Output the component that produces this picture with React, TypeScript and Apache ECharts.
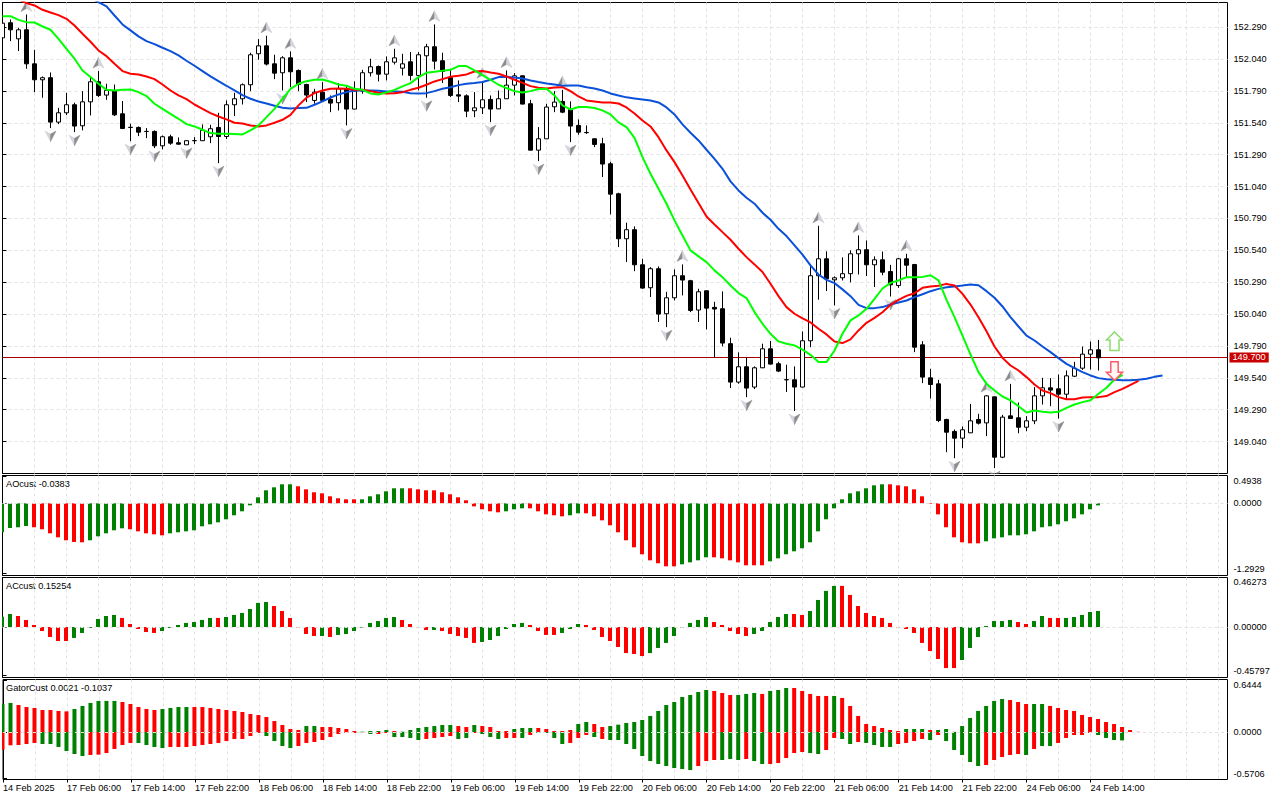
import React, { useEffect, useRef } from "react";
import * as echarts from "echarts";

// ---------- main pane: H1 candles, index 0 = first visible bar
const opens = [
152.207,152.325,152.199,152.270,152.003,151.878,151.894,151.546,151.619,151.682,
151.517,151.705,151.862,151.758,151.789,151.611,151.505,151.504,151.473,151.473,
151.360,151.431,151.384,151.368,151.400,151.400,151.431,151.504,151.433,151.682,
151.729,151.839,152.082,152.144,152.003,151.933,152.050,151.951,151.841,151.716,
151.781,151.724,151.698,151.807,151.648,151.789,151.933,151.982,151.922,152.016,
151.969,152.019,151.912,152.066,152.137,152.027,151.894,151.760,151.752,151.635,
151.658,151.724,151.650,151.729,151.836,151.909,151.690,151.326,151.415,151.666,
151.708,151.643,151.520,151.465,151.415,151.376,151.219,150.984,150.631,150.702,
150.427,150.247,150.396,150.043,150.168,150.341,150.302,150.072,150.223,150.093,
150.082,149.808,149.507,149.627,149.468,149.619,149.768,149.651,149.526,149.525,
149.468,149.831,150.341,150.474,150.309,150.325,150.357,150.513,150.545,150.427,
150.466,150.374,150.264,150.474,150.429,149.799,149.540,149.493,149.214,149.120,
149.067,149.109,149.214,149.187,149.391,148.918,149.242,149.227,149.153,149.203,
149.399,149.462,149.454,149.412,149.553,149.616,149.726,149.760];
const closes = [
152.322,152.270,152.270,152.003,151.878,151.894,151.546,151.619,151.682,151.515,
151.705,151.862,151.755,151.794,151.603,151.496,151.504,151.467,151.472,151.360,
151.431,151.381,151.373,151.400,151.401,151.481,151.494,151.433,151.682,151.729,
151.839,152.074,152.144,152.001,151.930,152.050,151.941,151.841,151.758,151.781,
151.716,151.695,151.807,151.648,151.789,151.933,151.980,151.922,152.019,152.050,
152.003,151.912,152.074,152.137,152.024,151.943,151.755,151.750,151.632,151.658,
151.721,151.648,151.729,151.836,151.909,151.687,151.326,151.415,151.664,151.703,
151.624,151.515,151.467,151.463,151.371,151.217,150.981,150.631,150.702,150.427,
150.244,150.396,150.040,150.168,150.341,150.307,150.069,150.215,150.087,150.080,
149.813,149.507,149.627,149.460,149.619,149.768,149.648,149.593,149.525,149.468,
149.831,150.341,150.474,150.317,150.325,150.357,150.513,150.545,150.427,150.466,
150.369,150.270,150.474,150.424,149.781,149.546,149.488,149.206,149.114,149.067,
149.133,149.203,149.185,149.399,148.918,149.232,149.221,149.153,149.203,149.399,
149.462,149.444,149.412,149.556,149.616,149.726,149.760,149.697];
const highs = [
152.330,152.351,152.286,152.390,152.113,151.904,151.935,151.658,151.776,151.698,
151.789,151.904,151.946,151.847,151.841,151.711,151.533,151.512,151.499,151.481,
151.441,151.447,151.426,151.402,151.428,151.528,151.525,151.619,151.716,151.776,
151.849,152.090,152.197,152.223,152.074,152.063,152.100,151.959,151.847,151.807,
151.860,151.755,151.852,151.826,151.865,151.956,152.043,151.990,152.061,152.121,
152.082,152.095,152.095,152.160,152.312,152.090,151.964,151.873,151.763,151.781,
151.867,151.755,151.794,151.951,151.930,151.912,151.721,151.507,151.690,151.789,
151.799,151.708,151.567,151.520,151.418,151.423,151.235,150.992,150.757,150.728,
150.474,150.409,150.414,150.215,150.391,150.430,150.309,150.239,150.225,150.137,
150.218,149.855,149.740,149.698,149.630,149.808,149.829,149.666,149.643,149.630,
149.904,150.432,150.733,150.532,150.336,150.485,150.540,150.657,150.618,150.493,
150.531,150.426,150.481,150.513,150.434,149.828,149.611,149.525,149.219,149.135,
149.159,149.336,149.258,149.405,149.394,149.250,149.493,149.347,149.240,149.467,
149.540,149.538,149.566,149.598,149.666,149.786,149.825,149.838];
const lows = [
152.200,152.181,152.103,151.964,151.781,151.737,151.499,151.530,151.601,151.467,
151.481,151.598,151.742,151.721,151.593,151.491,151.397,151.436,151.420,151.342,
151.332,151.368,151.368,151.367,151.373,151.398,151.381,151.224,151.413,151.593,
151.684,151.789,152.035,151.990,151.883,151.794,151.820,151.789,151.703,151.690,
151.703,151.624,151.637,151.520,151.646,151.768,151.904,151.865,151.873,151.998,
151.912,151.873,151.794,151.737,151.959,151.852,151.742,151.703,151.585,151.585,
151.609,151.546,151.648,151.727,151.755,151.686,151.324,151.240,151.413,151.624,
151.616,151.389,151.447,151.454,151.350,151.115,150.822,150.566,150.448,150.377,
150.239,150.174,149.978,149.938,150.147,150.187,150.056,149.978,149.920,149.698,
149.787,149.460,149.494,149.389,149.452,149.617,149.645,149.585,149.429,149.280,
149.466,149.781,150.153,150.221,150.108,150.304,150.289,150.351,150.338,150.252,
150.345,150.178,150.246,150.330,149.742,149.499,149.378,149.193,148.957,148.910,
148.989,149.107,149.174,149.083,148.832,148.910,149.219,149.106,149.122,149.177,
149.331,149.318,149.221,149.370,149.546,149.603,149.606,149.598];

// Alligator lines (first index given by *Start)
const blueStart = 11;
const blueLine = [152.52,
152.487,152.453,152.382,152.312,152.265,152.218,152.181,152.158,152.129,152.103,
152.069,152.027,151.988,151.946,151.904,151.867,151.831,151.794,151.758,151.729,
151.708,151.692,151.674,151.658,151.653,151.656,151.658,151.682,151.708,151.739,
151.763,151.781,151.794,151.794,151.794,151.792,151.786,151.786,151.784,151.773,
151.771,151.773,151.789,151.807,151.820,151.836,151.847,151.852,151.860,151.878,
151.899,151.901,151.896,151.888,151.873,151.860,151.849,151.841,151.831,151.833,
151.833,151.820,151.810,151.794,151.771,151.755,151.740,151.732,151.724,151.716,
151.700,151.661,151.606,151.528,151.462,151.402,151.329,151.258,151.180,151.081,
151.010,150.953,150.906,150.835,150.780,150.709,150.652,150.579,150.506,150.422,
150.351,150.309,150.283,150.234,150.181,150.113,150.087,150.087,150.095,150.115,
150.131,150.147,150.173,150.196,150.220,150.238,150.251,150.257,150.264,150.272,
150.267,150.220,150.168,150.100,150.016,149.943,149.872,149.833,149.786,149.742,
149.695,149.650,149.616,149.585,149.559,149.538,149.530,149.525,149.522,149.522,
149.525,149.533,149.548,149.559];
const redStart = 2;
const redLine = [152.508,
152.479,152.461,152.427,152.406,152.385,152.356,152.304,152.239,152.176,152.108,
152.063,152.003,151.946,151.925,151.920,151.904,151.883,151.841,151.794,151.755,
151.726,151.684,151.650,151.616,151.590,151.567,151.541,151.535,151.520,151.512,
151.520,151.541,151.564,151.603,151.677,151.737,151.773,151.794,151.807,151.810,
151.807,151.799,151.799,151.789,151.776,151.771,151.773,151.781,151.799,151.815,
151.839,151.865,151.883,151.901,151.909,151.920,151.943,151.946,151.935,151.925,
151.904,151.878,151.854,151.828,151.815,151.810,151.818,151.820,151.789,151.747,
151.716,151.708,151.700,151.700,151.692,151.661,151.614,151.559,151.512,151.428,
151.324,151.232,151.128,151.018,150.911,150.806,150.743,150.683,150.623,150.553,
150.487,150.430,150.370,150.278,150.181,150.095,150.043,150.006,149.975,149.925,
149.881,149.826,149.813,149.842,149.912,149.972,150.011,150.055,150.113,150.152,
150.183,150.204,150.246,150.257,150.262,150.277,150.264,150.199,150.115,150.016,
149.906,149.786,149.697,149.637,149.598,149.546,149.488,149.441,149.420,149.389,
149.373,149.373,149.386,149.389,149.389,149.397,149.428,149.454,149.485,149.517];
const greenStart = 0;
const greenLine = [
152.377,152.377,152.348,152.330,152.327,152.296,152.270,152.199,152.121,152.043,
151.951,151.899,151.847,151.799,151.794,151.799,151.802,151.781,151.750,151.690,
151.650,151.611,151.572,151.530,151.512,151.486,151.460,151.454,151.454,151.452,
151.449,151.481,151.520,151.585,151.650,151.729,151.807,151.847,151.867,151.878,
151.880,151.862,151.841,151.831,151.807,151.799,151.771,151.763,151.779,151.799,
151.826,151.852,151.899,151.933,151.941,151.948,151.956,151.985,151.985,151.951,
151.914,151.878,151.839,151.813,151.789,151.779,151.789,151.805,151.807,151.755,
151.677,151.645,151.664,151.664,151.657,151.638,151.606,151.544,151.507,151.423,
151.271,151.141,151.023,150.906,150.775,150.657,150.540,150.493,150.448,150.383,
150.330,150.265,150.205,150.166,150.056,149.964,149.886,149.826,149.808,149.795,
149.761,149.721,149.664,149.664,149.755,149.886,149.991,150.030,150.082,150.160,
150.241,150.285,150.304,150.330,150.330,150.332,150.345,150.304,150.152,150.016,
149.872,149.723,149.585,149.493,149.441,149.394,149.363,149.318,149.268,149.284,
149.274,149.268,149.274,149.305,149.331,149.350,149.365,149.415,149.462,149.527,
149.564];

// Fractal bars
const fractalUp = [3,12,33,36,40,49,54,60,63,70,85,102,107,113,123,126];
const fractalDown = [6,9,16,19,23,27,35,43,53,61,67,71,83,93,99,104,111,119,124,132];

// Signal arrows on the last bars
const signalBar = 139;
const signalUpPrice = 149.826;
const signalDownPrice = 149.595;

const currentPrice = 149.7;

// ---------- AO
const aoValues = [
-.537,-.457,-.444,-.420,-.444,-.481,-.556,-.630,-.685,-.716,-.722,-.685,-.611,-.556,-.500,-.463,
-.481,-.519,-.556,-.574,-.593,-.556,-.537,-.519,-.500,-.426,-.389,-.352,-.296,-.222,-.148,-.037,
.111,.241,.296,.352,.352,.315,.259,.204,.185,.130,.093,.074,.074,.074,.130,.167,.222,.278,
.278,.278,.259,.241,.241,.204,.167,.111,.056,-.056,-.111,-.148,-.167,-.148,-.111,-.093,-.093,
-.148,-.204,-.222,-.241,-.222,-.185,-.185,-.241,-.315,-.407,-.537,-.685,-.815,-.944,-1.056,
-1.111,-1.167,-1.167,-1.130,-1.093,-1.056,-1.000,-1.000,-1.019,-1.056,-1.093,-1.148,-1.148,
-1.148,-1.074,-1.019,-.944,-.889,-.833,-.722,-.519,-.296,-.093,.074,.185,.222,.278,.333,.352,
.352,.333,.315,.259,.130,-.012,-.204,-.444,-.630,-.722,-.741,-.741,-.704,-.648,-.630,-.593,
-.593,-.574,-.519,-.444,-.426,-.389,-.333,-.278,-.204,-.111,-.038];
// lengths of alternating rising / falling runs, starting with rising
const aoRuns = [4,7,5,5,16,8,6,12,3,5,2,12,4,7,15,12,15];

// ---------- AC
const acValues = [
.097,.122,.103,.066,.019,-.038,-.094,-.132,-.132,-.103,-.056,-.009,.075,.103,.113,.085,.028,
-.019,-.047,-.056,-.038,-.009,.019,.038,.047,.066,.085,.085,.094,.113,.132,.169,.226,.235,
.197,.150,.085,-.006,-.066,-.085,-.085,-.094,-.075,-.066,-.038,-.006,.038,.056,.085,.094,
.066,.028,-.003,-.028,-.028,-.038,-.066,-.085,-.103,-.150,-.141,-.122,-.085,-.019,.028,.038,
.019,-.038,-.075,-.075,-.056,-.019,.028,.019,-.028,-.094,-.132,-.188,-.245,-.254,-.273,-.245,
-.197,-.150,-.085,-.006,.038,.066,.094,.047,.019,-.038,-.066,-.085,-.066,-.038,.047,.094,.122,
.122,.113,.150,.254,.339,.386,.386,.301,.197,.132,.103,.085,.038,-.006,-.019,-.056,-.150,-.226,
-.301,-.386,-.386,-.310,-.197,-.094,.009,.056,.056,.066,.047,.028,.056,.103,.085,.085,.085,
.094,.113,.141,.150];
const acRuns = [2,7,6,5,7,1,6,6,1,1,8,4,1,5,6,4,3,8,8,5,5,2,4,15,7,2,2,2,5];

// ---------- Gator
const gatorUpper = [
.347,.360,.335,.310,.298,.273,.273,.261,.256,.285,.323,.360,.385,.385,.385,.372,.347,.310,.285,
.273,.285,.298,.310,.310,.310,.310,.298,.285,.273,.261,.248,.223,.211,.186,.136,.087,.037,.025,
.074,.074,.062,.062,.050,.037,.012,.004,.012,.012,.025,.012,.004,.025,.050,.062,.074,.087,.087,
.074,.062,.087,.074,.062,.012,.012,.037,.050,.050,.050,.037,.012,.012,.025,.099,.124,.099,.062,
.074,.091,.112,.124,.149,.199,.261,.335,.372,.434,.459,.496,.521,.509,.484,.459,.459,.472,.484,
.472,.509,.521,.546,.546,.509,.472,.447,.447,.447,.422,.323,.199,.099,.074,.050,.025,.012,.037,
.037,.037,.025,.025,.037,.002,.074,.174,.261,.323,.385,.409,.397,.372,.347,.347,.347,.323,.298,
.273,.261,.211,.186,.161,.124,.099,.062,.025,.002];
const gatorUpperRuns = [2,7,6,5,4,14,2,5,4,1,7,2,1,4,3,5,2,2,13,3,3,1,3,5,1,8,3,1,9,3,2,12];
const gatorLower = [
-.219,-.165,-.161,-.149,-.136,-.149,-.149,-.186,-.236,-.273,-.298,-.285,-.281,-.261,-.211,-.161,
-.136,-.136,-.161,-.186,-.199,-.186,-.186,-.186,-.174,-.161,-.149,-.136,-.112,-.087,-.087,-.050,
-.012,-.050,-.112,-.174,-.199,-.174,-.136,-.124,-.099,-.062,-.025,-.012,-.012,-.004,-.025,-.025,
-.012,-.062,-.062,-.074,-.099,-.087,-.074,-.062,-.050,-.087,-.074,-.012,-.025,-.062,-.087,-.074,
-.074,-.074,-.037,-.012,-.012,-.074,-.149,-.136,-.074,-.037,-.062,-.087,-.099,-.099,-.149,-.211,
-.298,-.360,-.397,-.422,-.447,-.459,-.472,-.422,-.360,-.347,-.347,-.335,-.347,-.335,-.360,-.397,
-.397,-.385,-.323,-.261,-.248,-.261,-.273,-.223,-.074,-.087,-.149,-.124,-.136,-.161,-.186,-.186,
-.149,-.136,-.112,-.087,-.099,-.037,-.112,-.223,-.285,-.372,-.422,-.409,-.347,-.310,-.285,-.273,
-.285,-.211,-.174,-.174,-.136,-.074,-.037,-.037,-.012,-.037,-.074,-.099,-.104];
// lengths of alternating runs, starting with falling
const gatorLowerRuns = [5,6,6,4,12,4,8,2,2,4,4,2,1,3,2,1,1,4,3,1,1,11,3,3,1,2,5,2,2,2,1,4,4,1,1,5,5,1,1,2,5,4];

// ---------- texts
const aoTitle = "AOcust -0.0383";
const acTitle = "ACcust 0.15254";
const gatorTitle = "GatorCust 0.0021 -0.1037";
const aoTicks = [-1.2929, 0, 0.4938];
const acTicks = [-0.45797, 0, 0.46273];
const gatorTicks = [-0.5706, 0, 0.6444];
const timeLabels = ["14 Feb 2025","17 Feb 06:00","17 Feb 14:00","17 Feb 22:00","18 Feb 06:00","18 Feb 14:00","18 Feb 22:00","19 Feb 06:00","19 Feb 14:00","19 Feb 22:00","20 Feb 06:00","20 Feb 14:00","20 Feb 22:00","21 Feb 06:00","21 Feb 14:00","21 Feb 22:00","24 Feb 06:00","24 Feb 14:00"];
const barsPerLabel = 8;

const FONT = "Liberation Sans";
const FONT_SIZE = 9.2;
const GRID_COLOR = "#e2e2e2";
const XMAX = 153.125;
const GREEN = "#008000";
const RED = "#ff0000";

function expandRuns(runs: number[], firstRising: boolean): boolean[] {
  const out: boolean[] = [];
  let flag = firstRising;
  runs.forEach((n) => {
    for (let k = 0; k < n; k++) out.push(flag);
    flag = !flag;
  });
  return out;
}

const barData = (values: number[], rising: boolean[]) =>
  values.map((v, i) => ({ value: [i, v], itemStyle: { color: rising[i] ? GREEN : RED } }));

const lineData = (values: number[], start: number) => values.map((v, k) => [k + start, v]);

const lineSeries = (name: string, values: number[], start: number, color: string, z: number) => ({
  name,
  type: "line",
  xAxisIndex: 0,
  yAxisIndex: 0,
  data: lineData(values, start),
  showSymbol: false,
  symbol: "none",
  z,
  lineStyle: { color, width: 2 },
  silent: true,
});

const gridAxis = (gridIndex: number) => ({
  type: "value",
  gridIndex,
  min: 0,
  max: XMAX,
  interval: 4,
  axisLine: { show: false },
  axisTick: { show: false },
  axisLabel: { show: false },
  splitLine: { show: true, showMinLine: false, showMaxLine: false, lineStyle: { color: GRID_COLOR, type: [3, 3], width: 1 } },
});

// hidden axis, half a pixel to the left, so that bars fall on whole pixels
const barAxis = (gridIndex: number) => ({
  type: "value",
  gridIndex,
  min: 0.0625,
  max: XMAX + 0.0625,
  show: false,
});

const indicatorY = (gridIndex: number, min: number, max: number, ticks: number[], digits: number) => ({
  type: "value",
  gridIndex,
  position: "right",
  min,
  max,
  axisLine: { show: true, lineStyle: { color: "#000" } },
  axisTick: { show: true, length: 4, lineStyle: { color: "#000" }, customValues: ticks },
  axisLabel: {
    show: true,
    customValues: ticks,
    margin: 6,
    fontSize: FONT_SIZE,
    fontFamily: FONT,
    color: "#000",
    verticalAlignMinLabel: "bottom",
    verticalAlignMaxLabel: "top",
    formatter: (v: number) => v.toFixed(digits),
  },
  splitLine: { show: false },
});

const zeroLine = {
  silent: true,
  symbol: "none",
  label: { show: false },
  lineStyle: { color: "#e0e0e0", type: [3, 3], width: 1 },
  data: [{ yAxis: 0 }],
};

const indicatorBars = (name: string, data: any[], xAxisIndex: number, yAxisIndex: number, withZero: boolean) => ({
  name,
  type: "bar",
  xAxisIndex,
  yAxisIndex,
  data,
  barWidth: 4,
  barGap: "-100%",
  silent: true,
  z: 2,
  markLine: withZero ? zeroLine : undefined,
});

function renderFractal(_: any, api: any) {
  const dir = api.value(2);
  const p = api.coord([api.value(0), api.value(1)]);
  const cx = p[0];
  const cy = p[1] - dir * 8;
  const s = dir;
  const apex = [cx, cy - 5.5 * s];
  const left = [cx - 5.5, cy + 5 * s];
  const right = [cx + 5.5, cy + 5 * s];
  const notch = [cx, cy + 2 * s];
  const dark = "#8c8c8c";
  const light = "#d4d6dc";
  return {
    type: "group",
    children: [
      { type: "polygon", shape: { points: [apex, left, notch] }, style: { fill: s > 0 ? dark : light, stroke: s > 0 ? dark : "#c8ccd8", lineWidth: 0.5 } },
      { type: "polygon", shape: { points: [apex, right, notch] }, style: { fill: s > 0 ? light : dark, stroke: s > 0 ? "#c8ccd8" : dark, lineWidth: 0.5 } },
    ],
  };
}

function renderSignal(_: any, api: any) {
  const dir = api.value(2);
  const p = api.coord([api.value(0), api.value(1)]);
  const [cx, cy] = p;
  const hw = dir > 0 ? 4.5 : 3.7;
  const pts = [
    [0, -9.5], [8, -1.5], [hw, -1.5], [hw, 9], [-hw, 9], [-hw, -1.5], [-8, -1.5],
  ].map(([x, y]) => [cx + x, cy + y * dir]);
  return {
    type: "polygon",
    shape: { points: pts },
    style: dir > 0
      ? { fill: "#ffffff", stroke: "#8fdc70", lineWidth: 1.5 }
      : { fill: "#fff8f4", stroke: "#ff5a6a", lineWidth: 1.5 },
  };
}

export default function App() {
  const ref = useRef<HTMLDivElement>(null);

  useEffect(() => {
    document.body.style.margin = "0";
    const chart = echarts.init(ref.current!, undefined, { renderer: "svg" });

    const frame = { show: true, borderColor: "#000", borderWidth: 1, backgroundColor: "#fff" };
    const labelTicks = timeLabels.map((_, k) => k * barsPerLabel);
    const titleFont = `${FONT_SIZE}px "${FONT}"`;
    const option: any = {
      animation: false,
      backgroundColor: "#fff",
      textStyle: { fontFamily: FONT },
      grid: [
        { left: 2.5, top: 2.5, width: 1225, height: 471, ...frame },
        { left: 2.5, top: 475.5, width: 1225, height: 100, ...frame },
        { left: 2.5, top: 577.5, width: 1225, height: 100, ...frame },
        { left: 2.5, top: 679.5, width: 1225, height: 100, ...frame },
      ],
      xAxis: [
        gridAxis(0),
        gridAxis(1), barAxis(1),
        gridAxis(2), barAxis(2),
        gridAxis(3), barAxis(3),
        {
          type: "value",
          gridIndex: 3,
          position: "bottom",
          min: 0,
          max: XMAX,
          axisLine: { show: false },
          axisTick: { show: true, length: 3, lineStyle: { color: "#000" }, customValues: labelTicks },
          splitLine: { show: false },
          axisLabel: {
            show: true,
            customValues: labelTicks,
            align: "left",
            margin: 4,
            fontSize: FONT_SIZE,
            fontFamily: FONT,
            color: "#000",
            hideOverlap: false,
            formatter: (v: number) => timeLabels[v / barsPerLabel] ?? "",
          },
        },
      ],
      yAxis: [
        {
          type: "value",
          gridIndex: 0,
          position: "right",
          min: 148.79,
          max: 152.484,
          interval: 0.25,
          axisLine: { show: true, lineStyle: { color: "#000" } },
          axisTick: { show: true, length: 4, lineStyle: { color: "#000" } },
          axisLabel: {
            show: true,
            margin: 6,
            fontSize: FONT_SIZE,
            fontFamily: FONT,
            color: "#000",
            showMinLabel: false,
            showMaxLabel: false,
            formatter: (v: number) => v.toFixed(3),
          },
          splitLine: { show: true, showMinLine: false, showMaxLine: false, lineStyle: { color: GRID_COLOR, type: [3, 3], width: 1 } },
        },
        indicatorY(1, -1.337, 0.515, aoTicks, 4),
        indicatorY(2, -0.4746, 0.465, acTicks, 5),
        indicatorY(3, -0.589, 0.651, gatorTicks, 4),
      ],
      graphic: [
        // bars and candles of the first index stop at the left frame
        { type: "rect", z: 100, silent: true, shape: { x: 0, y: 0, width: 2, height: 800 }, style: { fill: "#fff" } },
        { type: "text", left: 6, top: 479, silent: true, style: { text: aoTitle, font: titleFont, fill: "#000" } },
        { type: "text", left: 6, top: 581, silent: true, style: { text: acTitle, font: titleFont, fill: "#000" } },
        { type: "text", left: 6, top: 683, silent: true, style: { text: gatorTitle, font: titleFont, fill: "#000" } },
      ],
      series: [
        {
          name: "price line",
          type: "line",
          xAxisIndex: 0,
          yAxisIndex: 0,
          data: [],
          z: 1,
          silent: true,
          markLine: {
            z: 1,
            silent: true,
            symbol: "none",
            lineStyle: { color: "#a80000", type: "solid", width: 1 },
            label: {
              show: true,
              position: "end",
              distance: 2,
              formatter: (p: any) => Number(p.value).toFixed(3),
              backgroundColor: "#c80000",
              color: "#fff",
              fontSize: FONT_SIZE,
              fontFamily: FONT,
              padding: [0, 3],
              lineHeight: 10,
            },
            data: [{ yAxis: currentPrice }],
          },
        },
        {
          name: "candles",
          type: "candlestick",
          xAxisIndex: 0,
          yAxisIndex: 0,
          barWidth: 4,
          z: 2,
          silent: true,
          itemStyle: { color: "#fff", color0: "#000", borderColor: "#000", borderColor0: "#000", borderColorDoji: "#000", borderWidth: 1 },
          data: opens.map((o, i) => [i, o, closes[i], lows[i], highs[i]]),
        },
        {
          name: "fractals",
          type: "custom",
          xAxisIndex: 0,
          yAxisIndex: 0,
          clip: true,
          z: 3,
          silent: true,
          renderItem: renderFractal,
          encode: { x: 0, y: 1 },
          data: [
            ...fractalUp.map((i) => [i, highs[i], 1]),
            ...fractalDown.map((i) => [i, lows[i], -1]),
          ],
        },
        lineSeries("jaw", blueLine, blueStart, "#0a50d8", 4),
        lineSeries("teeth", redLine, redStart, "#ff0000", 5),
        lineSeries("lips", greenLine, greenStart, "#00ff00", 6),
        {
          name: "signals",
          type: "custom",
          xAxisIndex: 0,
          yAxisIndex: 0,
          z: 7,
          silent: true,
          renderItem: renderSignal,
          encode: { x: 0, y: 1 },
          data: [[signalBar, signalUpPrice, 1], [signalBar, signalDownPrice, -1]],
        },
        indicatorBars("AO", barData(aoValues, expandRuns(aoRuns, true)), 2, 1, true),
        indicatorBars("AC", barData(acValues, expandRuns(acRuns, true)), 4, 2, true),
        indicatorBars("Gator upper", barData(gatorUpper, expandRuns(gatorUpperRuns, true)), 6, 3, true),
        indicatorBars("Gator lower", barData(gatorLower, expandRuns(gatorLowerRuns, false)), 6, 3, false),
      ],
    };
    chart.setOption(option);
    return () => chart.dispose();
  }, []);

  return <div ref={ref} style={{ width: 1280, height: 800, background: "#fff" }} />;
}
